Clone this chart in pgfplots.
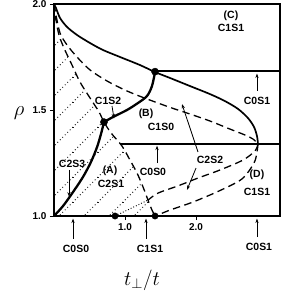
\documentclass[border=0pt]{standalone}
\usepackage{fontspec}
\setmainfont{Liberation Sans}
\usepackage{pgfplots}
\pgfplotsset{compat=1.18}
\usetikzlibrary{patterns.meta,arrows.meta}

\tikzdeclarepattern{
  name=dotdiag,
  type=colored,
  bounding box={(0pt,0pt) and (25pt,25pt)},
  tile size={(25pt,25pt)},
  code={
    \foreach \k in {0,...,9} {
      \fill[black] ({\k*2.5pt+1.25pt},{\k*2.5pt+1.25pt}) circle (0.6pt);
    }
  }
}

\tikzset{lbl/.style={font=\bfseries\fontsize{10.5}{11}\selectfont, inner sep=0pt},
  arr/.style={line width=0.8pt, -{Stealth[length=4.5pt,width=3.2pt]}}}

\begin{document}
\begin{tikzpicture}
\begin{axis}[name=ax,
  width=226bp, height=212bp, scale only axis,
  xmin=0, xmax=3.183, ymin=1, ymax=2,
  clip=false,
  axis line style={line width=2pt},
  xtick={1,2}, xticklabels={1.0,2.0},
  ytick={1,1.5,2}, yticklabels={1.0,1.5,2.0},
  tick align=outside, xtick pos=bottom, ytick pos=left,
  major tick length=4bp,
  tick style={line width=1pt, black},
  ticklabel style={font=\bfseries\fontsize{10}{11}\selectfont},
]
% hatched region (A)
\addplot[draw=none, pattern=dotdiag] coordinates {
 (0,1.0) (0,2.0) (0.028,1.925) (0.070,1.854) (0.141,1.792) (0.254,1.712)
 (0.366,1.632) (0.507,1.557) (0.634,1.491) (0.704,1.443) (0.803,1.392)
 (0.958,1.330) (1.070,1.264) (1.169,1.203) (1.254,1.137) (1.324,1.075)
 (1.380,1.028) (1.423,1.0)} -- cycle;

% outer solid curve
\addplot[line width=1.7pt, smooth] coordinates {
 (0,2.0) (0.028,1.981) (0.085,1.934) (0.183,1.892) (0.324,1.854) (0.507,1.816)
 (0.690,1.783) (0.930,1.750) (1.211,1.712) (1.423,1.679) (1.634,1.651)
 (1.915,1.613) (2.197,1.575) (2.408,1.542) (2.592,1.505) (2.732,1.462)
 (2.817,1.420) (2.859,1.377) (2.873,1.340)};

% thick curve from origin to dots
\addplot[line width=2.3pt, smooth] coordinates {
 (0,1.0) (0.127,1.047) (0.268,1.113) (0.408,1.184) (0.521,1.255)
 (0.606,1.325) (0.662,1.387) (0.704,1.443)};
\addplot[line width=2.3pt, smooth] coordinates {
 (0.704,1.443) (0.831,1.467) (1.028,1.500) (1.183,1.533) (1.310,1.566)
 (1.380,1.613) (1.423,1.679)};

% horizontal thick lines
\addplot[line width=2.5pt] coordinates {(1.423,1.683) (3.183,1.683)};
\addplot[line width=2.5pt] coordinates {(0.93,1.340) (3.183,1.340)};

% dashed A
\addplot[line width=1.3pt, dash pattern=on 7.5pt off 4.5pt, smooth] coordinates {
 (0,2.0) (0.028,1.948) (0.085,1.863) (0.183,1.807) (0.324,1.750) (0.507,1.689)
 (0.746,1.637) (1.0,1.594) (1.239,1.561) (1.620,1.514) (1.915,1.481)
 (2.197,1.448) (2.479,1.410) (2.690,1.382) (2.803,1.363) (2.873,1.340)};

% dashed B
\addplot[line width=1.3pt, dash pattern=on 7.5pt off 4.5pt, smooth] coordinates {
 (0,2.0) (0.028,1.925) (0.070,1.854) (0.141,1.792) (0.254,1.712)
 (0.366,1.632) (0.507,1.557) (0.634,1.491) (0.704,1.443) (0.803,1.392)
 (0.958,1.330) (1.070,1.264) (1.169,1.203) (1.254,1.137) (1.324,1.075)
 (1.380,1.028) (1.423,1.0)};

% lower right dashed curves
\addplot[line width=1.3pt, dash pattern=on 7.5pt off 4.5pt, smooth] coordinates {
 (2.873,1.340) (2.831,1.307) (2.662,1.264) (2.338,1.217) (2.028,1.179)
 (1.746,1.142) (1.465,1.108) (1.324,1.075)};
\addplot[line width=1.3pt, dash pattern=on 7.5pt off 4.5pt, smooth] coordinates {
 (2.873,1.340) (2.859,1.302) (2.817,1.250) (2.648,1.175) (2.324,1.118)
 (1.958,1.066) (1.634,1.028) (1.465,1.005) (1.423,1.0)};
\addplot[line width=0.9pt, dotted] coordinates {(0.86,1.0) (1.324,1.075)};

% bottom axis emphasis
\addplot[line width=2.6pt] coordinates {(0,1.0) (3.183,1.0)};

% dots
\addplot[only marks, mark=*, mark size=3.6pt] coordinates {(1.423,1.681) (0.704,1.443)};
\addplot[only marks, mark=*, mark size=3.2pt] coordinates {(0.86,1.0) (1.423,1.0)};

% labels
\node[lbl] at (axis cs:2.493,1.943) {(C)};
\node[lbl] at (axis cs:2.493,1.887) {C1S1};
\node[lbl] at (axis cs:2.859,1.542) {C0S1};
\draw[arr] (axis cs:2.859,1.590) -- (axis cs:2.859,1.672);
\node[lbl] at (axis cs:1.296,1.481) {(B)};
\node[lbl] at (axis cs:1.507,1.420) {C1S0};
\node[lbl] at (axis cs:0.761,1.542) {C1S2};
\draw[arr] (axis cs:0.817,1.519) -- (axis cs:0.845,1.460);
\node[lbl] at (axis cs:0.254,1.245) {C2S3};
\draw[arr] (axis cs:0.211,1.217) -- (axis cs:0.211,1.092);
\node[lbl] at (axis cs:0.789,1.212) {(A)};
\node[lbl] at (axis cs:0.803,1.151) {C2S1};
\node[lbl] at (axis cs:1.394,1.208) {C0S0};
\draw[arr] (axis cs:1.451,1.250) -- (axis cs:1.451,1.332);
\node[lbl] at (axis cs:2.197,1.264) {C2S2};
\draw[arr] (axis cs:2.028,1.302) -- (axis cs:1.803,1.528);
\draw[arr] (axis cs:2.0,1.226) -- (axis cs:1.873,1.123);
\node[lbl] at (axis cs:2.859,1.193) {(D)};
\node[lbl] at (axis cs:2.859,1.113) {C1S1};
% below axis
\node[lbl] at (axis cs:0.31,0.845) {C0S0};
\draw[arr] (axis cs:0.268,0.892) -- (axis cs:0.268,0.988);
\node[lbl] at (axis cs:1.352,0.845) {C1S1};
\draw[arr] (axis cs:1.296,0.892) -- (axis cs:1.296,0.988);
\node[lbl] at (axis cs:2.887,0.855) {C0S1};
\draw[arr] (axis cs:2.859,0.900) -- (axis cs:2.859,0.988);
% axis labels
\node at (axis cs:0,1.486) [xshift=-35bp] {\fontsize{21}{24}\selectfont $\rho$};
\node at (axis cs:1.24,1.0) [yshift=-64bp] {\fontsize{22}{26}\selectfont $t_\perp/t$};
\end{axis}
\pgfresetboundingbox
\path (ax.south west) ++(-54bp,-84bp) rectangle ++(284bp,300bp);
\end{tikzpicture}
\end{document}
